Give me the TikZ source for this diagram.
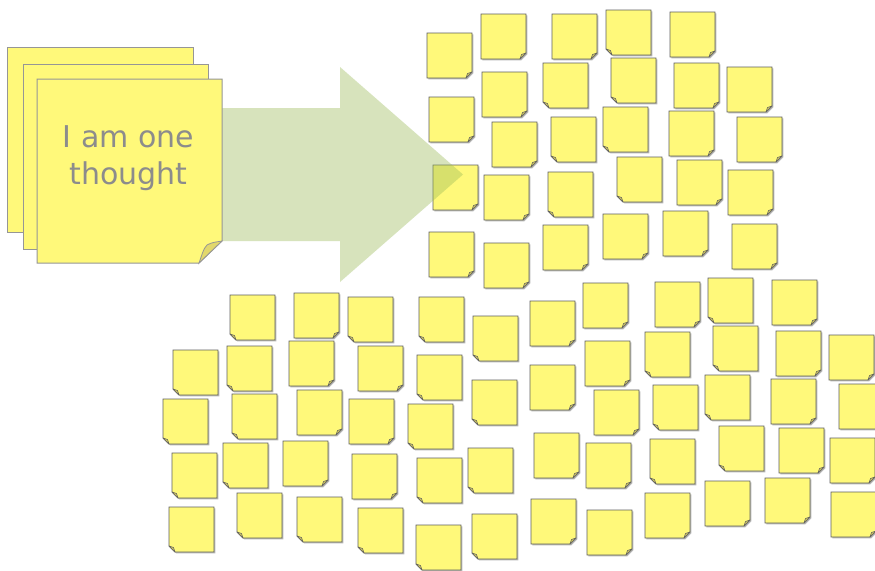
\documentclass[tikz,border=0pt]{standalone}
\usepackage{fontspec}
\newfontfamily\notefont{DejaVu Sans}
\definecolor{noteyellow}{RGB}{255,249,122}
\definecolor{foldyellow}{RGB}{214,204,96}
\definecolor{bigfold}{RGB}{226,216,108}
\definecolor{noteline}{RGB}{96,96,96}
\definecolor{arrowgreen}{RGB}{155,187,89}
\definecolor{textgray}{RGB}{140,140,140}
\definecolor{bigline}{RGB}{150,150,150}
\tikzset{
  notebody/.style={fill=noteyellow, draw=noteline, line width=0.9pt, line join=miter},
  notefold/.style={fill=foldyellow, draw=noteline, line width=0.6pt, line join=round},
  noteshadow/.style={fill=black!28},
  bignote/.style={fill=noteyellow, draw=bigline, line width=1pt},
  bigfoldstyle/.style={fill=bigfold, draw=bigline, line width=0.8pt},
  bigtext/.style={text=textgray, font=\notefont\fontsize{30}{36}\selectfont, inner sep=0pt, anchor=base},
  arrowshape/.style={fill=arrowgreen, fill opacity=0.4},
}
% note with folded corner bottom-right
\newcommand\stickyR[2]{%
  \fill[noteshadow] ({#1+1.3},{#2+1.3}) -- ({#1+46.3},{#2+1.3}) -- ({#1+46.3},{#2+40.3}) -- ({#1+40.3},{#2+46.3}) -- ({#1+1.3},{#2+46.3}) -- cycle;
  \draw[notebody] (#1,#2) -- ({#1+45},#2) -- ({#1+45},{#2+39}) -- ({#1+39},{#2+45}) -- (#1,{#2+45}) -- cycle;
  \draw[notefold] ({#1+45},{#2+39}) -- ({#1+39},{#2+45}) -- ({#1+40.5},{#2+40.5}) -- cycle;}
% note with folded corner bottom-left
\newcommand\stickyL[2]{%
  \fill[noteshadow] ({#1+1.3},{#2+1.3}) -- ({#1+46.3},{#2+1.3}) -- ({#1+46.3},{#2+46.3}) -- ({#1+7.3},{#2+46.3}) -- ({#1+1.3},{#2+40.3}) -- cycle;
  \draw[notebody] (#1,#2) -- ({#1+45},#2) -- ({#1+45},{#2+45}) -- ({#1+6},{#2+45}) -- (#1,{#2+39}) -- cycle;
  \draw[notefold] (#1,{#2+39}) -- ({#1+6},{#2+45}) -- ({#1+4.5},{#2+40.5}) -- cycle;}
\begin{document}
\begin{tikzpicture}[x=1pt,y=-1pt]
\useasboundingbox (0,0) rectangle (875,570);
\clip (0,0) rectangle (875,570);
\fill[white] (0,0) rectangle (875,570);
% ---- top cluster ----
\stickyR{427}{33}
\stickyR{481}{14}
\stickyR{552}{14}
\stickyL{606}{10}
\stickyR{670}{12}
\stickyR{482}{72}
\stickyL{543}{63}
\stickyL{611}{58}
\stickyR{674}{63}
\stickyR{727}{67}
\stickyR{429}{97}
\stickyR{492}{122}
\stickyL{551}{117}
\stickyL{603}{107}
\stickyR{669}{111}
\stickyR{737}{117}
\stickyR{433}{165}
\stickyR{484}{175}
\stickyL{548}{172}
\stickyL{617}{157}
\stickyR{677}{160}
\stickyR{728}{170}
\stickyR{429}{232}
\stickyR{484}{243}
\stickyR{543}{225}
\stickyR{603}{214}
\stickyR{663}{211}
\stickyR{732}{224}
% ---- bottom cluster ----
\stickyL{230}{295}
\stickyR{294}{293}
\stickyL{348}{297}
\stickyL{173}{350}
\stickyL{227}{346}
\stickyR{289}{341}
\stickyR{358}{346}
\stickyL{163}{399}
\stickyL{232}{394}
\stickyR{297}{390}
\stickyR{349}{399}
\stickyL{172}{453}
\stickyL{223}{443}
\stickyR{283}{441}
\stickyR{352}{454}
\stickyL{169}{507}
\stickyL{237}{493}
\stickyL{297}{497}
\stickyL{358}{508}
\stickyL{419}{297}
\stickyL{473}{316}
\stickyR{530}{301}
\stickyR{583}{283}
\stickyL{417}{355}
\stickyL{472}{380}
\stickyR{530}{365}
\stickyR{585}{341}
\stickyR{594}{390}
\stickyL{408}{404}
\stickyL{417}{458}
\stickyL{468}{448}
\stickyR{534}{433}
\stickyR{586}{443}
\stickyL{416}{525}
\stickyL{472}{514}
\stickyR{531}{499}
\stickyR{587}{510}
\stickyR{655}{282}
\stickyL{708}{278}
\stickyR{772}{280}
\stickyL{645}{332}
\stickyL{713}{326}
\stickyR{776}{331}
\stickyR{829}{335}
\stickyL{653}{385}
\stickyL{705}{375}
\stickyR{771}{379}
\stickyR{839}{384}
\stickyL{650}{439}
\stickyL{719}{426}
\stickyR{779}{428}
\stickyR{830}{438}
\stickyR{645}{493}
\stickyR{705}{481}
\stickyR{765}{478}
\stickyR{831}{492}
% ---- arrow ----
\fill[arrowshape] (150,108) -- (340,108) -- (340,67) -- (463,174.5) -- (340,282) -- (340,241) -- (150,241) -- cycle;
% ---- big note stack ----
\draw[bignote] (7,47) rectangle (193,232);
\draw[bignote] (23,64) rectangle (208,249);
\draw[bignote] (37,79) -- (222,79) -- (222,241) -- (199,263) -- (37,263) -- cycle;
\draw[bigfoldstyle] (222,241) -- (199,263) .. controls (202,255) and (203,249) .. (207,245) .. controls (212,242) and (217,242) .. (222,241) -- cycle;
\node[bigtext] (line1) at (128.5,147) {I am one};
\node[bigtext] (line2) at (128.5,184) {thought};
\end{tikzpicture}
\end{document}
